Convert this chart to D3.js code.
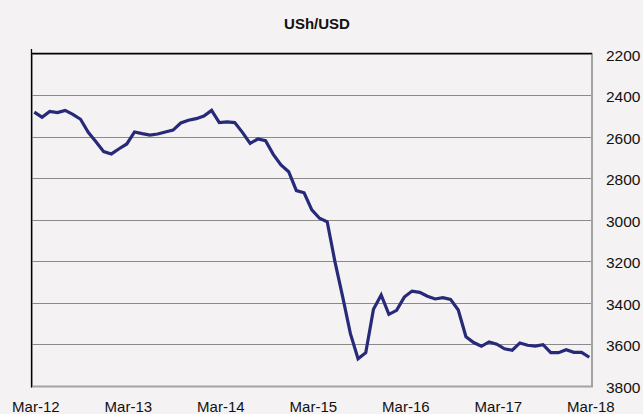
<!DOCTYPE html>
<html>
<head>
<meta charset="utf-8">
<script src="https://cdn.jsdelivr.net/npm/d3@7"></script>
<style>
  html, body { margin: 0; padding: 0; background: #f5f2f3; }
  svg { display: block; }
  text { font-family: "Liberation Sans", Arial, sans-serif; fill: #111; }
</style>
</head>
<body>
<script>
const title = "USh/USD";
const xTickLabels = ["Mar-12", "Mar-13", "Mar-14", "Mar-15", "Mar-16", "Mar-17", "Mar-18"];
const xTickIndex = [0, 12, 24, 36, 48, 60, 72];
const yTicks = [2200, 2400, 2600, 2800, 3000, 3200, 3400, 3600, 3800];
// Monthly UShs per USD, Mar-2012 .. Mar-2018
const rates = [
  2482, 2506, 2478, 2484, 2473, 2492, 2516, 2579, 2624, 2672, 2683, 2658,
  2635, 2577, 2585, 2592, 2587, 2577, 2568, 2534, 2521, 2513, 2500, 2473,
  2532, 2529, 2532, 2579, 2632, 2611, 2619, 2685, 2736, 2769, 2860, 2870,
  2953, 2993, 3010, 3202, 3371, 3548, 3670, 3641, 3432, 3363, 3456, 3437,
  3373, 3344, 3350, 3369, 3382, 3376, 3384, 3435, 3564, 3592, 3610, 3589,
  3600, 3622, 3629, 3594, 3605, 3609, 3602, 3641, 3641, 3627, 3639, 3639,
  3663
];

const W = 643, H = 414;
const plot = { left: 32, right: 592, top: 54, bottom: 386.5 };

const svg = d3.select("body").append("svg").attr("width", W).attr("height", H);
svg.append("rect").attr("width", W).attr("height", H).attr("fill", "#f5f2f3");

const x = d3.scaleLinear().domain([0, rates.length - 1]).range([34.3, 589.3]);
const y = d3.scaleLinear().domain([2200, 3800]).range([53.7, 385.7]);

// plot area border (grey, shadow-like)
svg.append("rect")
  .attr("x", plot.left).attr("y", plot.top)
  .attr("width", plot.right - plot.left).attr("height", plot.bottom - plot.top)
  .attr("fill", "#f5f2f3").attr("stroke", "#a3a3a3").attr("stroke-width", 2);

// gridlines
svg.append("g").selectAll("line")
  .data(yTicks.filter(d => d > 2200 && d < 3800))
  .join("line")
  .attr("x1", plot.left).attr("x2", plot.right - 1)
  .attr("y1", d => Math.round(y(d)) + 0.5).attr("y2", d => Math.round(y(d)) + 0.5)
  .attr("stroke", "#8a8a8a").attr("stroke-width", 1.2);

// black axis lines top & left
svg.append("line").attr("x1", 31.5).attr("x2", plot.right).attr("y1", 53.5).attr("y2", 53.5)
  .attr("stroke", "#000").attr("stroke-width", 1.3);
svg.append("line").attr("x1", 31.5).attr("x2", 31.5).attr("y1", 49).attr("y2", 387.5)
  .attr("stroke", "#000").attr("stroke-width", 1.3);

// line
svg.append("path")
  .datum(rates)
  .attr("fill", "none")
  .attr("stroke", "#262a78")
  .attr("stroke-width", 3.2)
  .attr("stroke-linejoin", "miter")
  .attr("d", d3.line().x((d, i) => x(i)).y(d => y(d)));

// x axis labels
const xAxis = d3.axisBottom(x)
  .tickValues(xTickIndex)
  .tickFormat((d, i) => xTickLabels[i])
  .tickSize(0).tickPadding(15);
const gx = svg.append("g").attr("transform", "translate(1,386)").call(xAxis);
gx.select(".domain").remove();
gx.selectAll("text").attr("font-size", 15).attr("fill", "#111")
  .style("font-family", '"Liberation Sans", Arial, sans-serif');

// y axis labels on the right
const yAxis = d3.axisRight(y).tickValues(yTicks).tickFormat(d3.format("d")).tickSize(0).tickPadding(14);
const gy = svg.append("g").attr("transform", "translate(592,1.5)").call(yAxis);
gy.select(".domain").remove();
gy.selectAll("text").attr("font-size", 15.5).attr("fill", "#111")
  .style("font-family", '"Liberation Sans", Arial, sans-serif');

// title
svg.append("text")
  .attr("x", 317).attr("y", 28.5)
  .attr("text-anchor", "middle")
  .attr("font-size", 15).attr("font-weight", "bold")
  .text(title);
</script>
</body>
</html>
